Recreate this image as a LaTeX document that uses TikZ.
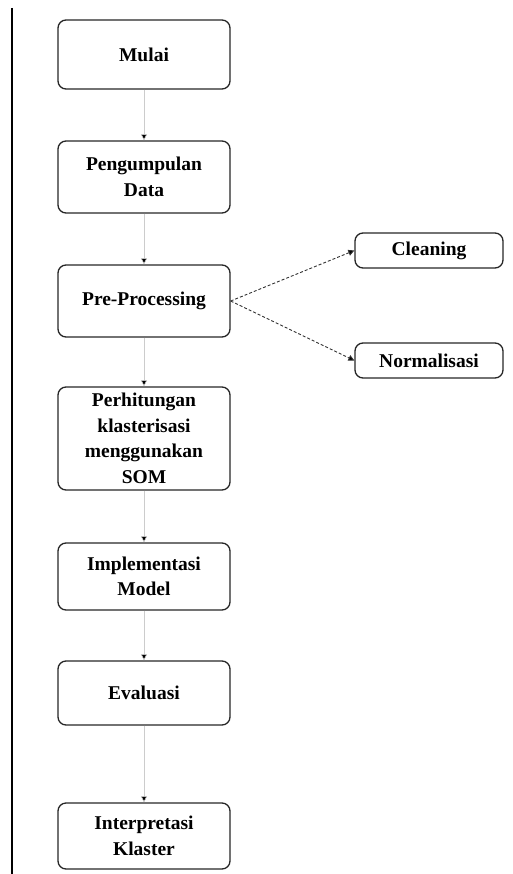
\documentclass[tikz,border=0pt]{standalone}
\usepackage{fontspec}
\setmainfont{Liberation Serif}
\usetikzlibrary{arrows.meta}
\begin{document}
\begin{tikzpicture}[x=1pt,y=-1pt,
  box/.style={draw=black!85, line width=1.3pt, rounded corners=8pt, align=center,
    font=\fontsize{19.5}{25.5}\selectfont\bfseries, inner sep=0pt},
  flow/.style={draw=black!20, line width=0.6pt, -{Triangle[width=6pt,length=6pt,fill=black]}},
  dashlink/.style={draw=black!80, line width=0.9pt, dash pattern=on 3pt off 2pt, -{Triangle[width=6pt,length=6pt,fill=black]}}
]
\useasboundingbox (0,0) rectangle (512,874);
\draw[line width=2pt] (12,8) coordinate (lt) -- (12,874) coordinate (lb);

\node[box, minimum width=172pt, minimum height=69pt] (mulai) at (144,54.5) {Mulai};
\node[box, minimum width=172pt, minimum height=72pt] (data) at (144,177) {Pengumpulan\\Data};
\node[box, minimum width=172pt, minimum height=72pt] (pre) at (144,301) {Pre-Processing};
\node[box, minimum width=148pt, minimum height=35pt] (clean) at (429,250.5) {Cleaning};
\node[box, minimum width=148pt, minimum height=35pt] (norm) at (429,360.5) {Normalisasi};
\node[box, minimum width=172pt, minimum height=103pt] (som) at (144,438.5) {Perhitungan\\klasterisasi\\menggunakan\\SOM};
\node[box, minimum width=172pt, minimum height=67pt] (impl) at (144,576.5) {Implementasi\\Model};
\node[box, minimum width=172pt, minimum height=64pt] (eval) at (144,693) {Evaluasi};
\node[box, minimum width=172pt, minimum height=66pt] (interp) at (144,836) {Interpretasi\\Klaster};

\draw[flow] (mulai) -- (data);
\draw[flow] (data) -- (pre);
\draw[flow] (pre) -- (som);
\draw[flow] (som) -- (impl);
\draw[flow] (impl) -- (eval);
\draw[flow] (eval) -- (interp);
\draw[dashlink] (pre.east) -- (clean.west);
\draw[dashlink] (pre.east) -- (norm.west);
\end{tikzpicture}
\end{document}
